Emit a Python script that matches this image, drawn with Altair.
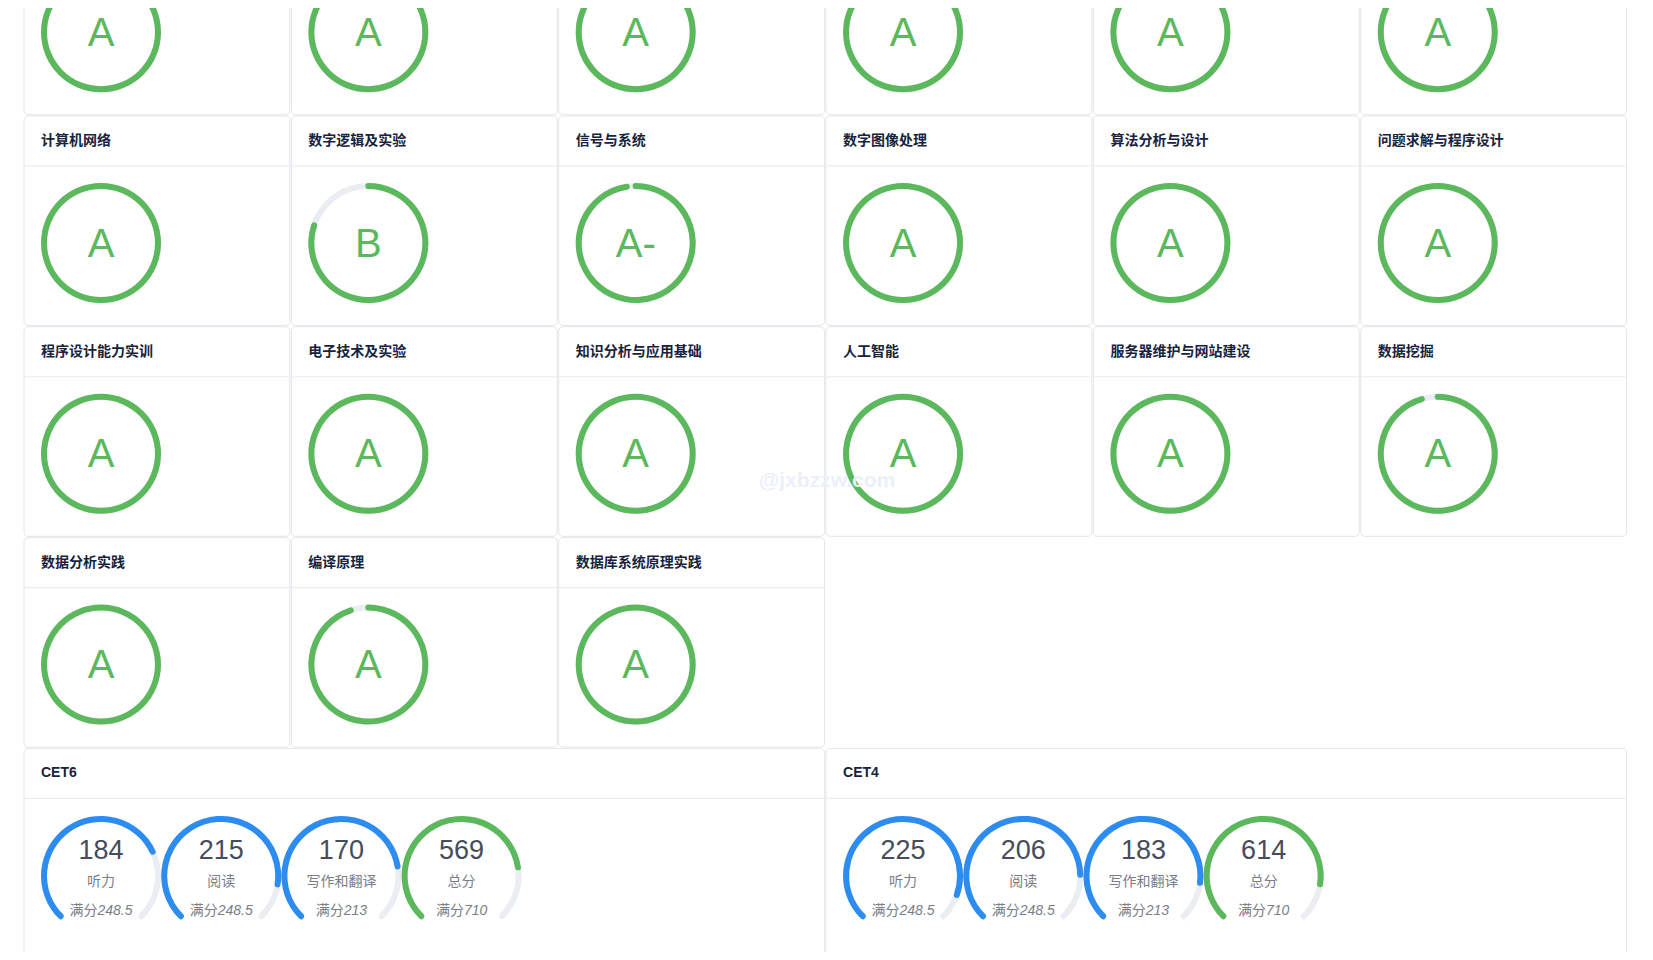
import math
import altair as alt
import pandas as pd

# ------------------------------------------------------------------ data
# course cards, read row by row (first row is cut off at the top of the page)
course_names = [
    "", "", "", "", "", "",
    "计算机网络", "数字逻辑及实验", "信号与系统", "数字图像处理", "算法分析与设计", "问题求解与程序设计",
    "程序设计能力实训", "电子技术及实验", "知识分析与应用基础", "人工智能", "服务器维护与网站建设", "数据挖掘",
    "数据分析实践", "编译原理", "数据库系统原理实践",
]
course_grades = [
    "A", "A", "A", "A", "A", "A",
    "A", "B", "A-", "A", "A", "A",
    "A", "A", "A", "A", "A", "A",
    "A", "A", "A",
]
course_progress = [
    100, 100, 100, 100, 100, 100,
    100, 80, 97.5, 100, 100, 100,
    100, 100, 100, 100, 100, 95.5,
    100, 95, 100,
]

cet_exams = ["CET6", "CET4"]
cet_parts = ["听力", "阅读", "写作和翻译", "总分"]
cet_full = [248.5, 248.5, 213, 710]
cet_scores = {
    "CET6": [184, 215, 170, 569],
    "CET4": [225, 206, 183, 614],
}
watermark = "@jxbzzw.com"

# ------------------------------------------------------------------ style / layout
GREEN = "#5cb85c"
BLUE = "#2d8cf0"
TRAIL = "#eaeef2"
BORDER = "#e3e6ea"
TITLE_C = "#17233d"
NUM_C = "#464c5b"
LABEL_C = "#7a7e88"
FONT = "Liberation Sans, Noto Sans CJK SC"

PAGE_W, PAGE_H, MARGIN = 1653, 960, 8
COLS = 6
COL0, COL_PITCH, CARD_GAP = 24.0, 267.35, 1.5
ROW0, ROW_PITCH, CARD_H = -94.8, 210.8, 209.5
HEAD_H, TITLE_DX, TITLE_DY = 50, 17, 25
RING_DX, RING_DY = 77, 127
GAUGE_PITCH = 120.2
CAP_DEG = math.degrees(3 / 57)

cards, arcs_track, arcs_prog, letters = [], [], [], []
for i, (name, grade, prog) in enumerate(zip(course_names, course_grades, course_progress)):
    r, c = divmod(i, COLS)
    x1 = COL0 + c * COL_PITCH
    y1 = ROW0 + r * ROW_PITCH
    cards.append(dict(x1=x1, x2=x1 + COL_PITCH - CARD_GAP, y1=y1, y2=y1 + CARD_H,
                      hy=y1 + HEAD_H, tx=x1 + TITLE_DX, ty=y1 + TITLE_DY, title=name))
    cx, cy = x1 + RING_DX, y1 + RING_DY
    arcs_track.append(dict(cx=cx, cy=cy, t1=0, t2=360, col=TRAIL))
    if prog >= 100:
        t1, t2 = 0, 360
    else:
        t1, t2 = -CAP_DEG, 360 * prog / 100 + CAP_DEG
    arcs_prog.append(dict(cx=cx, cy=cy, t1=t1, t2=t2, col=GREEN))
    letters.append(dict(cx=cx, cy=cy + 1.5, g=grade))

n_rows = (len(course_names) + COLS - 1) // COLS
nums, labels, fulls_a, fulls_b = [], [], [], []
for k, exam in enumerate(cet_exams):
    x1 = COL0 + 3 * k * COL_PITCH
    y1 = ROW0 + n_rows * ROW_PITCH
    cards.append(dict(x1=x1, x2=x1 + 3 * COL_PITCH - CARD_GAP, y1=y1, y2=y1 + CARD_H,
                      hy=y1 + HEAD_H, tx=x1 + TITLE_DX, ty=y1 + TITLE_DY, title=exam))
    for j, (part, full, score) in enumerate(zip(cet_parts, cet_full, cet_scores[exam])):
        cx = x1 + RING_DX + j * GAUGE_PITCH
        cy = y1 + RING_DY + 0.5
        col = GREEN if part == "总分" else BLUE
        arcs_track.append(dict(cx=cx, cy=cy, t1=-135 - CAP_DEG, t2=135 + CAP_DEG, col=TRAIL))
        arcs_prog.append(dict(cx=cx, cy=cy, t1=-135 - CAP_DEG,
                              t2=-135 + 270 * score / full + CAP_DEG, col=col))
        nums.append(dict(cx=cx, cy=cy - 25, s=str(score)))
        labels.append(dict(cx=cx, cy=cy + 6.5, s=part))
        fs = f"{full:g}"
        w_num = sum(3.89 if ch == "." else 7.78 for ch in fs)
        left = cx - (28 + w_num) / 2
        fulls_a.append(dict(cx=left, cy=cy + 35, s="满分"))
        fulls_b.append(dict(cx=left + 28, cy=cy + 35, s=fs))

wm = pd.DataFrame([dict(cx=827, cy=481, s=watermark)])

df_cards = pd.DataFrame(cards)
df_track = pd.DataFrame(arcs_track)
df_prog = pd.DataFrame(arcs_prog)
df_letters = pd.DataFrame(letters)

W, H = PAGE_W - 2 * MARGIN, PAGE_H - 2 * MARGIN
xs = alt.Scale(domain=[MARGIN, PAGE_W - MARGIN], range=[0, W], nice=False, zero=False)
ys = alt.Scale(domain=[MARGIN, PAGE_H - MARGIN], range=[0, H], nice=False, zero=False)
ts = alt.Scale(domain=[-180, 180], range=[-math.pi, math.pi], nice=False, zero=False)


def X(f):
    return alt.X(f"{f}:Q", scale=xs, axis=None)


def Y(f):
    return alt.Y(f"{f}:Q", scale=ys, axis=None)


card_rects = alt.Chart(df_cards).mark_rect(
    fill="white", stroke=BORDER, strokeWidth=1, cornerRadius=4
).encode(x=X("x1"), x2="x2:Q", y=Y("y1"), y2="y2:Q")

head_rules = alt.Chart(df_cards).mark_rule(color="#e8eaec", strokeWidth=1).encode(
    x=X("x1"), x2="x2:Q", y=Y("hy")
)

titles = alt.Chart(df_cards).mark_text(
    align="left", baseline="middle", fontSize=14, fontWeight="bold", font=FONT, color=TITLE_C
).encode(x=X("tx"), y=Y("ty"), text="title:N")


def arc_layer(df):
    return alt.Chart(df).mark_arc(radius=60, radius2=54, cornerRadius=3).encode(
        x=X("cx"), y=Y("cy"),
        theta=alt.Theta("t1:Q", scale=ts, stack=None),
        theta2="t2:Q",
        color=alt.Color("col:N", scale=None),
    )


tracks = arc_layer(df_track)
progress = arc_layer(df_prog)

grade_text = alt.Chart(df_letters).mark_text(
    align="center", baseline="middle", fontSize=40, font=FONT, color=GREEN
).encode(x=X("cx"), y=Y("cy"), text="g:N")

num_text = alt.Chart(pd.DataFrame(nums)).mark_text(
    align="center", baseline="middle", fontSize=27, font=FONT, color=NUM_C
).encode(x=X("cx"), y=Y("cy"), text="s:N")

label_text = alt.Chart(pd.DataFrame(labels)).mark_text(
    align="center", baseline="middle", fontSize=14, font=FONT, color=LABEL_C
).encode(x=X("cx"), y=Y("cy"), text="s:N")

full_a = alt.Chart(pd.DataFrame(fulls_a)).mark_text(
    align="left", baseline="middle", fontSize=14, font=FONT, color=LABEL_C
).encode(x=X("cx"), y=Y("cy"), text="s:N")

full_b = alt.Chart(pd.DataFrame(fulls_b)).mark_text(
    align="left", baseline="middle", fontSize=14, font=FONT, fontStyle="italic", color=LABEL_C
).encode(x=X("cx"), y=Y("cy"), text="s:N")

wm_text = alt.Chart(wm).mark_text(
    align="center", baseline="middle", fontSize=21, fontWeight="bold", font=FONT, color="#ebf0fa"
).encode(x=X("cx"), y=Y("cy"), text="s:N")

chart = alt.layer(
    card_rects, head_rules, titles, tracks, progress, grade_text,
    num_text, label_text, full_a, full_b, wm_text
).properties(
    width=W, height=H, padding=0,
    autosize=alt.AutoSizeParams(type="none"),
    background="white",
).configure_view(stroke=None)

chart.save("out.html", embed_options={"renderer": "svg", "actions": False})
